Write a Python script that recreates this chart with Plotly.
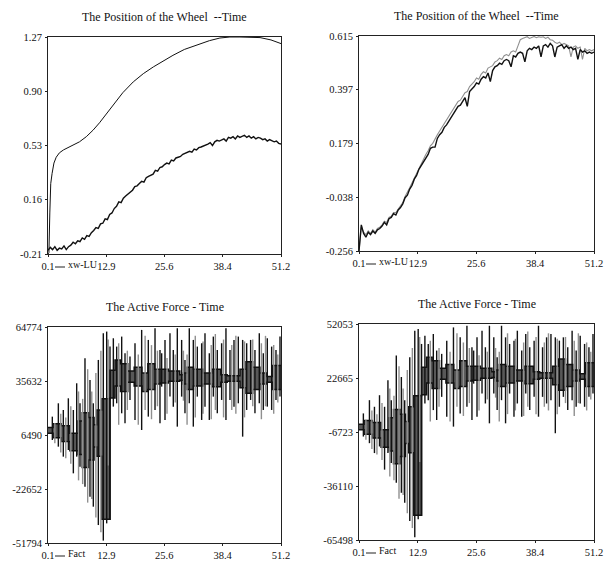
import numpy as np
import plotly.graph_objects as go

# ---------------- data ----------------
t_start, t_end, n_samples = 0.1, 51.2, 103
t = np.linspace(t_start, t_end, n_samples)

x_tick_vals = [0.1, 12.9, 25.6, 38.4, 51.2]
x_tick_text = ["0.1", "12.9", "25.6", "38.4", "51.2"]

# Top-left: position of the wheel
pos1_ticks = [-0.21, 0.16, 0.53, 0.90, 1.27]
pos1_tick_text = ["-0.21", "0.16", "0.53", "0.90", "1.27"]
ref_t = [0.1, 0.3, 0.5, 0.7, 1.0, 1.4, 1.9, 2.6, 3.5, 4.5, 5.6, 7.0, 8.5, 10.0, 11.4,
         12.9, 14.4, 16.5, 18.8, 21.0, 23.2, 25.5, 27.5, 30.0, 33.4, 35.5, 37.8, 40.0,
         42.2, 44.5, 46.6, 49.0, 51.2]
ref_pos = [-0.21, -0.20, 0.07, 0.27, 0.34, 0.41, 0.45, 0.48, 0.50, 0.515, 0.53, 0.555,
           0.59, 0.635, 0.685, 0.745, 0.81, 0.89, 0.964, 1.02, 1.066, 1.11, 1.145, 1.185,
           1.225, 1.245, 1.263, 1.27, 1.27, 1.27, 1.266, 1.25, 1.225]
xwlu_pos = [-0.185, -0.165, -0.18, -0.16, -0.185, -0.17, -0.175, -0.155, -0.18, -0.16,
            -0.15, -0.13, -0.14, -0.12, -0.125, -0.10, -0.11, -0.085, -0.09, -0.065,
            -0.05, -0.03, -0.035, -0.005, 0.0, 0.03, 0.025, 0.06, 0.07, 0.10,
            0.115, 0.145, 0.14, 0.17, 0.185, 0.20, 0.215, 0.225, 0.25, 0.255,
            0.27, 0.285, 0.28, 0.31, 0.32, 0.33, 0.335, 0.36, 0.355, 0.38,
            0.385, 0.40, 0.41, 0.405, 0.43, 0.425, 0.445, 0.45, 0.455, 0.47,
            0.475, 0.48, 0.49, 0.485, 0.505, 0.50, 0.515, 0.52, 0.525, 0.535,
            0.54, 0.55, 0.53, 0.555, 0.565, 0.56, 0.57, 0.575, 0.56, 0.585,
            0.58, 0.59, 0.575, 0.595, 0.585, 0.59, 0.60, 0.585, 0.595, 0.58,
            0.59, 0.575, 0.585, 0.58, 0.57, 0.575, 0.56, 0.57, 0.565, 0.555,
            0.56, 0.545, 0.54]

# Top-right: position of the wheel
pos2_ticks = [-0.256, -0.038, 0.179, 0.397, 0.615]
pos2_tick_text = ["-0.256", "-0.038", "0.179", "0.397", "0.615"]
pos2_black = [-0.256, -0.15, -0.185, -0.20, -0.18, -0.19, -0.175, -0.185, -0.17, -0.165,
              -0.155, -0.14, -0.15, -0.125, -0.12, -0.105, -0.11, -0.09, -0.08, -0.065,
              -0.04, -0.03, -0.005, 0.01, 0.035, 0.05, 0.075, 0.09, 0.11, 0.125,
              0.135, 0.16, 0.165, 0.165, 0.20, 0.215, 0.225, 0.245, 0.255, 0.27,
              0.285, 0.30, 0.31, 0.33, 0.335, 0.35, 0.365, 0.33, 0.39, 0.40,
              0.41, 0.425, 0.42, 0.44, 0.45, 0.445, 0.465, 0.43, 0.475, 0.49,
              0.495, 0.505, 0.50, 0.515, 0.52, 0.515, 0.49, 0.535, 0.53, 0.545,
              0.55, 0.545, 0.51, 0.555, 0.565, 0.56, 0.57, 0.565, 0.575, 0.53,
              0.575, 0.58, 0.57, 0.585, 0.575, 0.53, 0.57, 0.575, 0.58, 0.565,
              0.575, 0.565, 0.57, 0.56, 0.565, 0.52, 0.56, 0.55, 0.555, 0.545,
              0.55, 0.545, 0.55]
pos2_grey = [-0.256, -0.16, -0.18, -0.19, -0.175, -0.185, -0.17, -0.18, -0.165, -0.16,
             -0.15, -0.135, -0.14, -0.12, -0.115, -0.10, -0.10, -0.085, -0.07, -0.06,
             -0.035, -0.02, 0.0, 0.02, 0.04, 0.06, 0.08, 0.10, 0.12, 0.135,
             0.15, 0.17, 0.18, 0.20, 0.215, 0.23, 0.245, 0.26, 0.275, 0.29,
             0.30, 0.32, 0.33, 0.35, 0.355, 0.37, 0.385, 0.39, 0.41, 0.42,
             0.43, 0.445, 0.44, 0.46, 0.47, 0.465, 0.485, 0.49, 0.495, 0.51,
             0.515, 0.525, 0.52, 0.535, 0.54, 0.535, 0.55, 0.555, 0.55, 0.575,
             0.60, 0.605, 0.61, 0.612, 0.605, 0.61, 0.613, 0.608, 0.612, 0.61,
             0.612, 0.605, 0.61, 0.60, 0.598, 0.59, 0.585, 0.59, 0.58, 0.585,
             0.58, 0.575, 0.53, 0.57, 0.575, 0.565, 0.57, 0.52, 0.565, 0.555,
             0.56, 0.555, 0.56]

# Bottom: active force (step band + spikes)
force1_ticks = [-51794, -22652, 6490, 35632, 64774]
force2_ticks = [-65498, -36110, -6723, 22665, 52053]
band_edges = [0.1, 1.2, 3.0, 4.9, 6.7, 7.6, 9.0, 10.2, 10.8, 11.9, 13.7, 14.8, 16.0, 17.6,
              19.0, 20.7, 22.0, 23.5, 24.7, 26.5, 29.0, 29.8, 30.6, 32.0, 34.1, 36.0,
              38.0, 39.4, 42.2, 43.5, 45.0, 46.6, 48.0, 49.4, 51.2]
band1_hi = [10500, 12500, 11500, 7500, 14000, 18500, 16000, 12000, 20000, 26000, 41500,
            47000, 45000, 41000, 43000, 40000, 45000, 42000, 42000, 41000, 39000, 40000,
            43000, 42000, 40000, 42000, 39000, 38500, 42000, 46000, 43000, 40000, 38000,
            44000]
band1_lo = [7500, 5000, 3000, -2000, -4000, -11000, -7000, 0, -5000, -39000, 26500,
            33000, 30000, 35000, 33000, 30000, 31000, 34000, 34500, 35500, 36000, 34000,
            31000, 33000, 34000, 32500, 35000, 35500, 32000, 29000, 31000, 34000, 35000,
            31000]
band2_hi = [-2500, -500, -1500, -5500, 1000, 5500, 3000, -1000, 7000, 13000, 28500,
            34000, 32000, 28000, 30000, 27000, 32000, 29000, 29000, 28000, 26000, 27000,
            30000, 29000, 27000, 29000, 26000, 25500, 29000, 33000, 30000, 27000, 25000,
            31000]
band2_lo = [-5500, -8000, -10000, -15000, -17000, -24000, -20000, -13000, -18000, -52000,
            13500, 20000, 17000, 22000, 20000, 17000, 18000, 21000, 21500, 22500, 23000,
            21000, 18000, 20000, 21000, 19500, 22000, 22500, 19000, 16000, 18000, 21000,
            22000, 18000]

spike_t = [1.05, 2.37, 3.46, 4.56, 5.66, 6.39, 7.12, 8.21, 9.31, 10.04, 11.14, 12.23,
           12.97, 13.70, 14.43, 15.16, 16.26, 16.99, 18.08, 19.18, 20.64, 22.10, 23.57,
           24.66, 25.03, 25.76, 26.85, 27.58, 28.46, 29.41, 30.14, 31.09, 31.97, 32.85,
           33.80, 34.53, 35.48, 36.36, 37.23, 38.18, 39.13, 40.01, 40.89, 41.84, 42.79,
           43.67, 44.54, 45.49, 46.44, 47.32, 48.20, 49.15, 50.10, 50.98]
spike1_lo = [3800, 200, -5200, -1600, -14200, -5200, -10600, -21400, -26800, -32200,
             -42100, -50500, -41200, -39400, 21800, 23600, 18200, 12800, 25400, 14600,
             9200, 16400, 20000, 12800, 32600, 14600, 27200, 21800, 11000, 27200, 18200,
             23600, 11000, 27200, 14600, 21800, 14600, 27200, 18200, 25400, 14600, 25400,
             21800, 23600, 5600, 20000, 25400, 18200, 23600, 20000, 21800, 20000, 25400,
             27200]
spike1_hi = [16400, 23600, 20000, 26300, 20000, 34400, 23600, 47900, 36200, 23600, 47000,
             61400, 62300, 54200, 58700, 54200, 59600, 50600, 48800, 56000, 63200, 57800,
             64100, 52400, 50600, 57800, 61400, 52400, 64100, 57800, 47000, 64100, 57800,
             54200, 56000, 61400, 50600, 59600, 52400, 56000, 64100, 52400, 57800, 59600,
             57800, 56000, 57800, 52400, 61400, 50600, 58700, 54200, 52400, 59600]
spike2_lo = [-9200, -12800, -18200, -14600, -27200, -18200, -23600, -34400, -39800, -45200,
             -55100, -64000, -54200, -52400, 8800, 10600, 5200, -200, 12400, 1600,
             -3800, 3400, 7000, -200, 19600, 1600, 14200, 8800, -2000, 14200, 5200,
             10600, -2000, 14200, 1600, 8800, 1600, 14200, 5200, 12400, 1600, 12400,
             8800, 10600, -7400, 7000, 12400, 5200, 10600, 7000, 8800, 7000, 12400,
             14200]
spike2_hi = [3400, 10600, 7000, 13300, 7000, 21400, 10600, 34900, 23200, 10600, 34000,
             48400, 49300, 41200, 45700, 41200, 46600, 37600, 35800, 43000, 50200, 44800,
             51100, 39400, 37600, 44800, 48400, 39400, 51100, 44800, 34000, 51100, 44800,
             41200, 43000, 48400, 37600, 46600, 39400, 43000, 51100, 39400, 44800, 46600,
             44800, 43000, 44800, 39400, 48400, 37600, 45700, 41200, 39400, 46600]

grey_spike_t = [1.6, 2.9, 4.0, 5.1, 6.8, 7.7, 8.8, 9.7, 10.6, 11.7, 13.3, 15.6, 17.5, 19.9,
                21.4, 22.8, 24.1, 26.2, 28.0, 29.8, 30.6, 32.4, 34.1, 35.9, 36.8, 38.6,
                40.4, 41.3, 43.2, 45.0, 46.9, 47.8, 49.6, 50.5]
grey1_lo = [2000, -3000, -6000, -9000, -18000, -20000, -30000, -28000, -38000, -46000,
            -10000, 12000, 20000, 12000, 20000, 15000, 22000, 18000, 24000, 25000, 12000,
            16000, 18000, 15000, 20000, 16000, 20000, 18000, 16000, 22000, 15000, 22000,
            18000, 24000]
grey1_hi = [13000, 18000, 16000, 22000, 30000, 26000, 42000, 30000, 40000, 52000, 58000,
            56000, 52000, 50000, 60000, 55000, 52000, 48000, 50000, 52000, 50000, 60000,
            57000, 55000, 61000, 58000, 55000, 60000, 57000, 58000, 56000, 60000, 55000,
            50000]
grey2_lo = [-11000, -16000, -19000, -22000, -31000, -33000, -43000, -41000, -51000, -59000,
            -23000, -1000, 7000, -1000, 7000, 2000, 9000, 5000, 11000, 12000, -1000,
            3000, 5000, 2000, 7000, 3000, 7000, 5000, 3000, 9000, 2000, 9000, 5000, 11000]
grey2_hi = [0, 5000, 3000, 9000, 17000, 13000, 29000, 17000, 27000, 39000, 45000,
            43000, 39000, 37000, 47000, 42000, 39000, 35000, 37000, 39000, 37000, 47000,
            44000, 42000, 48000, 45000, 42000, 47000, 44000, 45000, 43000, 47000, 42000,
            37000]

titles = ["The Position of the Wheel  --Time", "The Position of the Wheel  --Time",
          "The Active Force - Time", "The Active Force - Time"]
legend_labels = ["xw-LU", "xw-LU", "Fact", "Fact"]

# ---------------- figure ----------------
W, H = 605, 563
FONT = "Liberation Serif"
BLACK = "#111111"
GREY = "#8f8f8f"
TXT = "#111111"

# panel boxes in pixels: (left, right, top, bottom)
boxes = [(48, 281, 37, 254), (359, 594, 36, 251), (48, 281, 327, 543), (359, 594, 324, 540)]

fig = go.Figure()


def segs(xs, lo, hi):
    X, Y = [], []
    for a, b, c in zip(xs, lo, hi):
        X += [a, a, None]
        Y += [b, c, None]
    return X, Y


def add(tr, k):
    sfx = "" if k == 1 else str(k)
    tr.update(xaxis="x" + sfx, yaxis="y" + sfx, showlegend=False, hoverinfo="skip")
    fig.add_trace(tr)


# panel 1
add(go.Scatter(x=ref_t, y=ref_pos, mode="lines", line=dict(color=BLACK, width=1)), 1)
add(go.Scatter(x=t, y=xwlu_pos, mode="lines", line=dict(color=BLACK, width=1.4)), 1)
# panel 2
add(go.Scatter(x=t, y=pos2_grey, mode="lines", line=dict(color=GREY, width=1.1)), 2)
add(go.Scatter(x=t, y=pos2_black, mode="lines", line=dict(color=BLACK, width=1.4)), 2)

# panels 3, 4
for k, (blo, bhi, slo, shi, glo, ghi) in zip(
        [3, 4],
        [(band1_lo, band1_hi, spike1_lo, spike1_hi, grey1_lo, grey1_hi),
         (band2_lo, band2_hi, spike2_lo, spike2_hi, grey2_lo, grey2_hi)]):
    add(go.Scatter(x=band_edges, y=blo + [blo[-1]], mode="lines", line_shape="hv",
                   line=dict(color=BLACK, width=1.5)), k)
    add(go.Scatter(x=band_edges, y=bhi + [bhi[-1]], mode="lines", line_shape="hv",
                   fill="tonexty", fillcolor="#585858",
                   line=dict(color=BLACK, width=1.5)), k)
    gx, gy = segs(grey_spike_t, glo, ghi)
    add(go.Scatter(x=gx, y=gy, mode="lines", line=dict(color=GREY, width=1.4)), k)
    bx, by = segs(spike_t, slo, shi)
    add(go.Scatter(x=bx, y=by, mode="lines", line=dict(color=BLACK, width=1.4)), k)

y_specs = [
    (pos1_ticks, pos1_tick_text),
    (pos2_ticks, pos2_tick_text),
    (force1_ticks, [str(v) for v in force1_ticks]),
    (force2_ticks, [str(v) for v in force2_ticks]),
]

layout = dict(
    width=W, height=H, autosize=False,
    margin=dict(l=0, r=0, t=0, b=0),
    paper_bgcolor="white", plot_bgcolor="white",
    template="none",
    font=dict(family=FONT, size=10, color=TXT),
    showlegend=False,
)
annotations = []
shapes = []
for i, ((l, r, tp, bt), (yt, ytt)) in enumerate(zip(boxes, y_specs)):
    k = i + 1
    sfx = "" if k == 1 else str(k)
    axcommon = dict(showline=True, mirror=True, linecolor="#222222", linewidth=1,
                    showgrid=False, zeroline=False, ticks="outside", ticklen=2,
                    tickcolor="#222222", tickfont=dict(family=FONT, size=10.5, color=TXT))
    layout["xaxis" + sfx] = dict(axcommon, domain=[l / W, r / W], anchor="y" + sfx,
                                 range=[t_start, t_end], tickvals=x_tick_vals,
                                 ticktext=x_tick_text, ticklabelstandoff=0)
    layout["yaxis" + sfx] = dict(axcommon, domain=[1 - bt / H, 1 - tp / H], anchor="x" + sfx,
                                 range=[yt[0], yt[-1]], tickvals=yt, ticktext=ytt,
                                 ticklabelstandoff=1)
    annotations.append(dict(text=titles[i], x=(l + r) / 2 / W, y=1 - (tp - 20) / H,
                            xref="paper", yref="paper", xanchor="center", yanchor="middle",
                            showarrow=False, font=dict(family=FONT, size=12, color=TXT)))
    # legend sample: line + label just below axis
    ly = 1 - (bt + 10) / H
    shapes.append(dict(type="line", xref="paper", yref="paper",
                       x0=(l + 7) / W, x1=(l + 17) / W, y0=ly - 3 / H, y1=ly - 3 / H,
                       line=dict(color="#222222", width=1)))
    annotations.append(dict(text=legend_labels[i], x=(l + 18) / W, y=ly,
                            xref="paper", yref="paper", xanchor="left", yanchor="middle",
                            showarrow=False, font=dict(family=FONT, size=10, color=TXT)))
layout["annotations"] = annotations
layout["shapes"] = shapes
fig.update_layout(**layout)

fig.write_html("out.html", config={"displayModeBar": False},
               post_script="document.body.style.margin='0';document.body.style.padding='0';")
